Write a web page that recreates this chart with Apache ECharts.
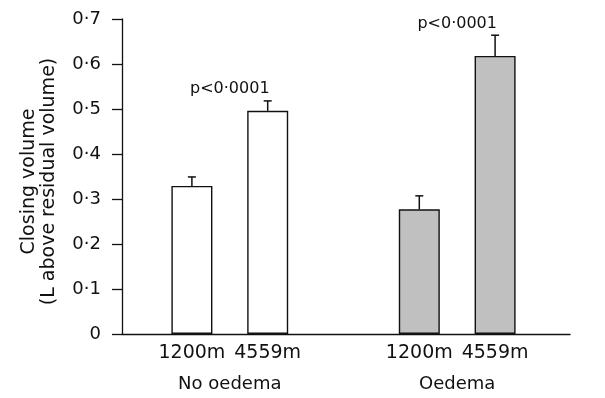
<!DOCTYPE html>
<html>
<head>
<meta charset="utf-8">
<script src="https://cdn.jsdelivr.net/npm/echarts@6/dist/echarts.min.js"></script>
<style>
  html, body { margin: 0; padding: 0; background: #fff; }
  #chart { width: 605px; height: 398px; }
</style>
</head>
<body>
<div id="chart"></div>
<script>
// data
const altitudes = ['1200m', '4559m', '', '1200m', '4559m'];
const groups = ['No oedema', 'Oedema'];
const closingVolume = [0.329, 0.496, null, 0.277, 0.618];
const sem = [0.020, 0.022, null, 0.030, 0.046];
const pLabels = ['p<0·0001', 'p<0·0001'];
const pHeights = [0.545, 0.690];
const yTicks = [0, 0.1, 0.2, 0.3, 0.4, 0.5, 0.6, 0.7];

const font = 'DejaVu Sans';
const ink = '#111';

// half-step axis so group labels sit between each pair of bars
const groupSlots = new Array(altitudes.length * 2 + 1).fill('');
groups.forEach((g, i) => { groupSlots[6 * i + 2] = g; });

const chart = echarts.init(document.getElementById('chart'));

chart.setOption({
  animation: false,
  textStyle: { fontFamily: font, color: ink },
  grid: [
    { left: 122, right: 35, top: 19, bottom: 64 },
    { left: 154, right: 72, top: 19, bottom: 64 }
  ],
  xAxis: [
    {
      gridIndex: 0, type: 'value', min: 0, max: 1,
      axisLine: { show: true, onZero: false, lineStyle: { color: ink, width: 1.3 } },
      axisTick: { show: false }, axisLabel: { show: false }, splitLine: { show: false }
    },
    {
      gridIndex: 1, type: 'category', position: 'bottom', data: altitudes,
      axisLine: { show: false }, axisTick: { show: false },
      axisLabel: { interval: 0, margin: 10, fontSize: 19, color: ink, fontFamily: font }
    },
    {
      gridIndex: 1, type: 'category', position: 'bottom', boundaryGap: false, data: groupSlots,
      axisLine: { show: false }, axisTick: { show: false },
      axisLabel: { interval: 0, margin: 41, fontSize: 18, color: ink, fontFamily: font }
    }
  ],
  yAxis: [
    {
      gridIndex: 0, type: 'value', min: yTicks[0], max: yTicks[yTicks.length - 1], interval: 0.1,
      offset: 4,
      axisLine: { show: true, lineStyle: { color: ink, width: 1.3 } },
      axisTick: { show: true, length: 10, lineStyle: { color: ink, width: 1.3 } },
      axisLabel: {
        margin: 17, fontSize: 18, color: ink, fontFamily: font,
        formatter: v => (v === 0 ? '0' : v.toFixed(1).replace('.', '·'))
      },
      splitLine: { show: false },
      name: 'Closing volume\n(L above residual volume)',
      nameLocation: 'middle', nameRotate: 90, nameGap: 59,
      nameTextStyle: { fontSize: 19, lineHeight: 20, color: ink, fontFamily: font, padding: [0, 0, 0, -10] }
    },
    { gridIndex: 1, type: 'value', min: 0, max: 0.7, show: false }
  ],
  series: [
    {
      type: 'bar', xAxisIndex: 1, yAxisIndex: 1, barWidth: 41,
      data: closingVolume.map(v => (v == null ? '-' : v)),
      itemStyle: {
        color: p => (p.dataIndex > 2 ? '#c0c0c0' : '#ffffff'),
        borderColor: ink, borderWidth: 1.4
      },
      z: 3
    },
    {
      type: 'custom', xAxisIndex: 1, yAxisIndex: 1, z: 2,
      data: closingVolume.map((v, i) => (v == null ? null : [i, v, v + sem[i]])).filter(d => d),
      renderItem: (params, api) => {
        const x = api.value(0);
        const base = api.coord([x, api.value(1)]);
        const top = api.coord([x, api.value(2)]);
        const st = { stroke: ink, lineWidth: 1.5 };
        return {
          type: 'group',
          children: [
            { type: 'line', shape: { x1: base[0], y1: base[1], x2: top[0], y2: top[1] }, style: st },
            { type: 'line', shape: { x1: top[0] - 4, y1: top[1], x2: top[0] + 4, y2: top[1] }, style: st }
          ]
        };
      }
    },
    {
      // significance notes, centred over each pair of bars
      type: 'custom', xAxisIndex: 2, yAxisIndex: 1, z: 4,
      data: pHeights.map((h, i) => [6 * i + 2, h, i]),
      renderItem: (params, api) => {
        const pt = api.coord([api.value(0), api.value(1)]);
        return {
          type: 'text', x: pt[0], y: pt[1],
          style: {
            text: pLabels[api.value(2)], fill: ink,
            font: '16px "' + font + '"', align: 'center', verticalAlign: 'middle'
          }
        };
      }
    }
  ]
});
</script>
</body>
</html>
